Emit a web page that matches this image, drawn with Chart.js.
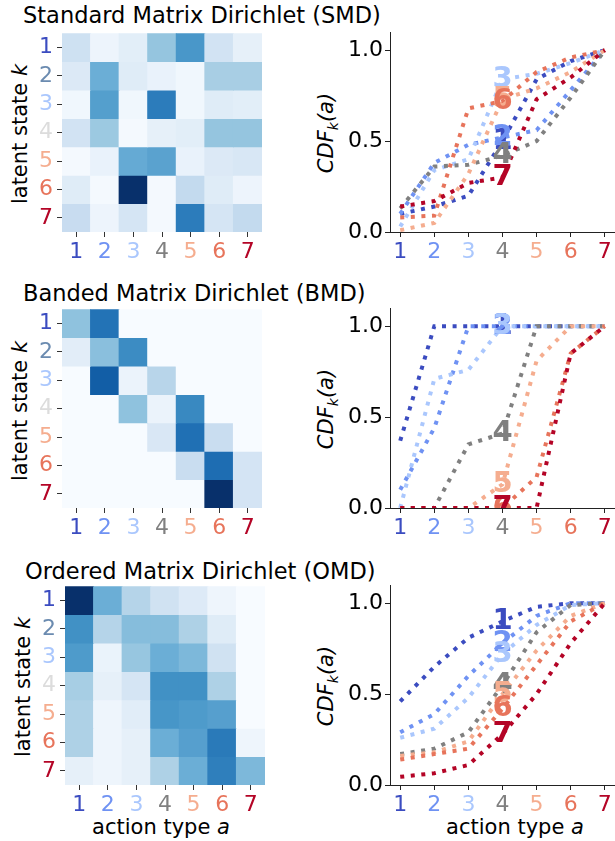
<!DOCTYPE html>
<html>
<head>
<meta charset="utf-8">
<script src="https://cdn.jsdelivr.net/npm/chart.js@4.4.1/dist/chart.umd.min.js"></script>
<style>
  body { margin: 0; background: #fff; font-family: "DejaVu Sans", sans-serif; color: #000; }
  #fig { position: relative; width: 615px; height: 841px; overflow: hidden; }
  canvas { position: absolute; }
  .txt { position: absolute; font-size: 21px; line-height: 21px; white-space: nowrap; }
  .ttl { font-size: 22.5px; line-height: 22.5px; }
  .rot { transform: translate(-50%, -50%) rotate(-90deg); }
  .ctr { transform: translateX(-50%); }
</style>
</head>
<body>
<div id="fig">
  <div class="txt ttl" style="left:23px;top:4px">Standard Matrix Dirichlet (SMD)</div>
  <div class="txt ttl" style="left:23px;top:282px">Banded Matrix Dirichlet (BMD)</div>
  <div class="txt ttl" style="left:25px;top:560px">Ordered Matrix Dirichlet (OMD)</div>

  <div class="txt rot" style="left:20px;top:134px">latent state <i>k</i></div>
  <div class="txt rot" style="left:20px;top:411px">latent state <i>k</i></div>
  <div class="txt rot" style="left:23px;top:687px">latent state <i>k</i></div>

  <div class="txt rot" style="left:330px;top:133px"><i>CDF<sub style="font-size:14px">k</sub>(a)</i></div>
  <div class="txt rot" style="left:330px;top:409px"><i>CDF<sub style="font-size:14px">k</sub>(a)</i></div>
  <div class="txt rot" style="left:330px;top:686px"><i>CDF<sub style="font-size:14px">k</sub>(a)</i></div>

  <div class="txt ctr" style="left:161px;top:817px">action type <i>a</i></div>
  <div class="txt ctr" style="left:515px;top:817px">action type <i>a</i></div>

  <canvas id="heat0" width="290" height="264" style="left:0;top:16px"></canvas>
  <canvas id="heat1" width="290" height="264" style="left:0;top:292px"></canvas>
  <canvas id="heat2" width="290" height="264" style="left:0;top:569px"></canvas>
  <canvas id="cdf0" width="315" height="264" style="left:300px;top:16px"></canvas>
  <canvas id="cdf1" width="315" height="264" style="left:300px;top:292px"></canvas>
  <canvas id="cdf2" width="315" height="264" style="left:300px;top:569px"></canvas>
</div>
<script>
// categories
const actions = ['1', '2', '3', '4', '5', '6', '7'];
const actionValues = [1, 2, 3, 4, 5, 6, 7];
const states = ['1', '2', '3', '4', '5', '6', '7'];
const probTicks = [0, 0.5, 1.0];
const labelAction = 4; // where the state numbers sit on the CDF lines

const stateColors = ['#3b4cc0', '#6f92f3', '#aac7fd', '#808080', '#f5ad8f', '#e7745b', '#b40426'];
const rowTickColors = ['#3b4cc0', '#6b8bb0', '#aac7fd', '#dcdcdc', '#f5ad8f', '#e7745b', '#b40426'];

// heatmaps: rows = latent state k, cols = action type a
const smdMatrix = [
  [0.12, 0.03, 0.06, 0.23, 0.35, 0.11, 0.05],
  [0.08, 0.29, 0.07, 0.04, 0.02, 0.20, 0.20],
  [0.02, 0.33, 0.02, 0.41, 0.02, 0.07, 0.06],
  [0.11, 0.22, 0.01, 0.05, 0.06, 0.23, 0.23],
  [0.01, 0.04, 0.30, 0.32, 0.04, 0.08, 0.09],
  [0.07, 0.01, 0.58, 0.01, 0.15, 0.07, 0.03],
  [0.14, 0.03, 0.10, 0.01, 0.41, 0.10, 0.15]
];
const bmdMatrix = [
  [0.35, 0.63, 0.00, 0.00, 0.00, 0.00, 0.00],
  [0.09, 0.36, 0.55, 0.00, 0.00, 0.00, 0.00],
  [0.00, 0.70, 0.05, 0.25, 0.00, 0.00, 0.00],
  [0.00, 0.00, 0.35, 0.05, 0.56, 0.00, 0.00],
  [0.00, 0.00, 0.00, 0.13, 0.64, 0.20, 0.00],
  [0.00, 0.00, 0.00, 0.00, 0.20, 0.65, 0.15],
  [0.00, 0.00, 0.00, 0.00, 0.00, 0.85, 0.15]
];
const omdMatrix = [
  [0.46, 0.23, 0.14, 0.09, 0.06, 0.02, 0.00],
  [0.29, 0.14, 0.20, 0.20, 0.15, 0.055, 0.00],
  [0.27, 0.03, 0.18, 0.23, 0.21, 0.09, 0.00],
  [0.16, 0.04, 0.08, 0.29, 0.29, 0.15, 0.00],
  [0.15, 0.02, 0.05, 0.28, 0.27, 0.26, 0.00],
  [0.15, 0.02, 0.04, 0.23, 0.26, 0.33, 0.02],
  [0.04, 0.02, 0.04, 0.15, 0.23, 0.32, 0.21]
];

// CDF_k(a) lines, one row per latent state
const smdCdf = [
  [0.10, 0.14, 0.20, 0.50, 0.84, 0.94, 1.00],
  [0.10, 0.38, 0.48, 0.52, 0.56, 0.78, 1.00],
  [0.03, 0.34, 0.40, 0.84, 0.87, 0.93, 1.00],
  [0.13, 0.36, 0.37, 0.42, 0.50, 0.74, 1.00],
  [0.01, 0.05, 0.32, 0.73, 0.79, 0.88, 1.00],
  [0.08, 0.09, 0.68, 0.72, 0.88, 0.96, 1.00],
  [0.14, 0.17, 0.27, 0.30, 0.73, 0.85, 1.00]
];
const bmdCdf = [
  [0.37, 1.00, 1.00, 1.00, 1.00, 1.00, 1.00],
  [0.10, 0.44, 1.00, 1.00, 1.00, 1.00, 1.00],
  [0.00, 0.71, 0.76, 1.00, 1.00, 1.00, 1.00],
  [0.00, 0.00, 0.35, 0.41, 1.00, 1.00, 1.00],
  [0.00, 0.00, 0.00, 0.13, 0.81, 1.00, 1.00],
  [0.00, 0.00, 0.00, 0.00, 0.17, 0.85, 1.00],
  [0.00, 0.00, 0.00, 0.00, 0.00, 0.85, 1.00]
];
const omdCdf = [
  [0.46, 0.65, 0.81, 0.90, 0.98, 1.00, 1.00],
  [0.29, 0.39, 0.60, 0.78, 0.93, 1.00, 1.00],
  [0.26, 0.31, 0.48, 0.72, 0.88, 0.99, 1.00],
  [0.17, 0.20, 0.29, 0.55, 0.84, 0.99, 1.00],
  [0.16, 0.18, 0.24, 0.50, 0.74, 0.93, 1.00],
  [0.14, 0.17, 0.20, 0.42, 0.66, 0.90, 1.00],
  [0.045, 0.065, 0.11, 0.28, 0.50, 0.78, 1.00]
];

const tickFont = { family: "'DejaVu Sans', sans-serif", size: 22 };

// matplotlib "Blues"
const bluesStops = ['#f7fbff', '#deebf7', '#c6dbef', '#9ecae1', '#6baed6', '#4292c6', '#2171b5', '#08519c', '#08306b'];
function hexRgb(h) {
    return [parseInt(h.slice(1, 3), 16), parseInt(h.slice(3, 5), 16), parseInt(h.slice(5, 7), 16)];
}
function blues(t) {
    t = Math.max(0, Math.min(1, t));
    const pos = t * (bluesStops.length - 1);
    const i = Math.min(Math.floor(pos), bluesStops.length - 2);
    const f = pos - i;
    const a = hexRgb(bluesStops[i]), b = hexRgb(bluesStops[i + 1]);
    const c = a.map((v, j) => Math.round(v + (b[j] - v) * f));
    return 'rgb(' + c.join(',') + ')';
}

function makeHeatmap(id, matrix, areaLeft) {
    const vmax = Math.max(...matrix.flat());
    const datasets = matrix.map((row, k) => ({
        label: states[k],
        data: row.map(() => 1),
        backgroundColor: row.map(v => blues(v / vmax)),
        borderWidth: 0,
        inflateAmount: 0.5,
        barPercentage: 1,
        categoryPercentage: 1
    }));
    new Chart(document.getElementById(id), {
        type: 'bar',
        data: { labels: actions, datasets: datasets },
        options: {
            responsive: false,
            animation: false,
            events: [],
            layout: { padding: { top: 16, right: 290 - areaLeft - 200, left: 0, bottom: 0 } },
            plugins: { legend: { display: false }, tooltip: { enabled: false } },
            scales: {
                x: {
                    stacked: true,
                    grid: { offset: false, drawOnChartArea: false, tickLength: 5, tickColor: '#333' },
                    border: { display: false },
                    ticks: { font: tickFont, color: c => stateColors[c.index], padding: 2, maxRotation: 0, autoSkip: false },
                    afterFit: s => { s.height = 48; }
                },
                y: {
                    stacked: true,
                    reverse: true,
                    min: 0,
                    max: 7,
                    afterBuildTicks: s => { s.ticks = states.map((_, i) => ({ value: i + 0.5 })); },
                    grid: { drawOnChartArea: false, tickLength: 5, tickColor: '#333' },
                    border: { display: false },
                    ticks: { font: tickFont, color: c => rowTickColors[c.index], padding: 4, callback: (v, i) => states[i] },
                    afterFit: s => { s.width = areaLeft; }
                }
            }
        }
    });
}

// numbers 1..7 written on the lines at a = 4
const lineLabels = {
    id: 'lineLabels',
    afterDatasetsDraw(chart) {
        const { ctx, chartArea, scales } = chart;
        ctx.save();
        ctx.beginPath();
        ctx.rect(chartArea.left, chartArea.top, chartArea.right - chartArea.left, chartArea.bottom - chartArea.top);
        ctx.clip();
        ctx.font = "bold 29px 'DejaVu Sans', sans-serif";
        ctx.textAlign = 'center';
        ctx.textBaseline = 'middle';
        chart.data.datasets.forEach((ds, k) => {
            const p = ds.data.find(d => d.x === labelAction);
            ctx.fillStyle = stateColors[k];
            ctx.fillText(states[k], scales.x.getPixelForValue(p.x), scales.y.getPixelForValue(p.y));
        });
        ctx.restore();
    }
};

function makeCdf(id, cdf) {
    const datasets = cdf.map((row, k) => ({
        label: states[k],
        data: row.map((v, j) => ({ x: actionValues[j], y: v })),
        borderColor: stateColors[k],
        borderWidth: 4,
        borderDash: [4, 6.6],
        borderCapStyle: 'butt',
        pointRadius: 0,
        fill: false,
        tension: 0,
        order: cdf.length - k
    }));
    new Chart(document.getElementById(id), {
        type: 'line',
        data: { datasets: datasets },
        options: {
            responsive: false,
            animation: false,
            events: [],
            layout: { padding: { top: 16, right: 0, left: 0, bottom: 0 } },
            plugins: { legend: { display: false }, tooltip: { enabled: false } },
            scales: {
                x: {
                    type: 'linear',
                    min: 0.7,
                    max: 7.3,
                    afterBuildTicks: s => { s.ticks = actionValues.map(v => ({ value: v })); },
                    grid: { drawOnChartArea: false, tickLength: 5, tickColor: '#222' },
                    border: { display: true, color: '#222', width: 1 },
                    ticks: { font: tickFont, color: c => stateColors[c.index], padding: 2, maxRotation: 0, autoSkip: false, callback: (v, i) => actions[i] },
                    afterFit: s => { s.height = 48; }
                },
                y: {
                    min: 0,
                    max: 1.1,
                    afterBuildTicks: s => { s.ticks = probTicks.map(v => ({ value: v })); },
                    grid: { drawOnChartArea: false, tickLength: 5, tickColor: '#222' },
                    border: { display: true, color: '#222', width: 1 },
                    ticks: { font: tickFont, color: '#000', padding: 2, callback: v => v.toFixed(1) },
                    afterFit: s => { s.width = 90; }
                }
            }
        },
        plugins: [lineLabels]
    });
}

makeHeatmap('heat0', smdMatrix, 62);
makeHeatmap('heat1', bmdMatrix, 62);
makeHeatmap('heat2', omdMatrix, 65);
makeCdf('cdf0', smdCdf);
makeCdf('cdf1', bmdCdf);
makeCdf('cdf2', omdCdf);
</script>
</body>
</html>
